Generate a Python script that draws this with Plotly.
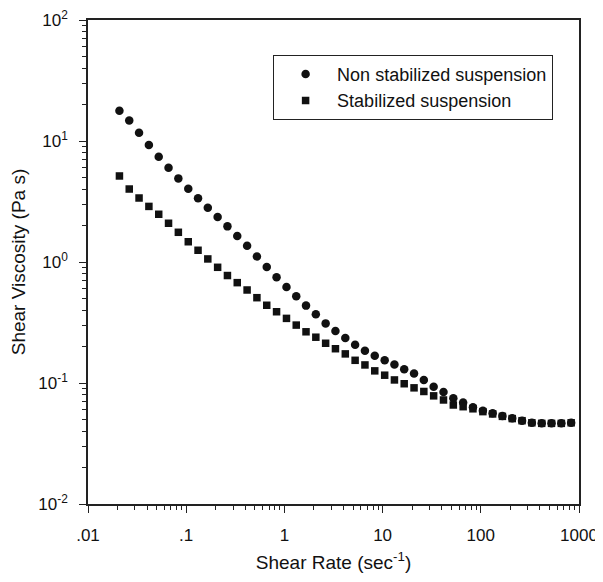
import plotly.graph_objects as go

shear_rate = [0.0209, 0.0263, 0.0331, 0.0417, 0.0525, 0.0661, 0.0832, 0.105, 0.132, 0.166,
              0.209, 0.263, 0.331, 0.417, 0.525, 0.661, 0.832, 1.05, 1.32, 1.66,
              2.09, 2.63, 3.31, 4.17, 5.25, 6.61, 8.32, 10.5, 13.2, 16.6,
              20.9, 26.3, 33.1, 41.7, 52.5, 66.1, 83.2, 105, 132, 166,
              209, 263, 331, 417, 525, 661, 832]

non_stabilized = [17.8, 14.8, 11.7, 9.27, 7.41, 6.01, 4.91, 4.03, 3.36, 2.81,
                  2.35, 1.97, 1.64, 1.36, 1.11, 0.910, 0.748, 0.621, 0.521, 0.436,
                  0.370, 0.311, 0.269, 0.235, 0.207, 0.185, 0.168, 0.154, 0.142, 0.130,
                  0.120, 0.106, 0.0931, 0.0843, 0.0748, 0.0690, 0.0630, 0.0589, 0.0562, 0.0534,
                  0.0511, 0.0488, 0.0469, 0.0464, 0.0464, 0.0464, 0.0469]

stabilized = [5.14, 4.01, 3.38, 2.88, 2.48, 2.09, 1.76, 1.47, 1.25, 1.06,
              0.904, 0.773, 0.675, 0.587, 0.507, 0.439, 0.388, 0.342, 0.301, 0.265,
              0.239, 0.213, 0.192, 0.174, 0.154, 0.141, 0.126, 0.116, 0.106, 0.0986,
              0.0912, 0.0851, 0.0783, 0.0724, 0.0658, 0.0637, 0.0612, 0.0580, 0.0555, 0.0530,
              0.0508, 0.0488, 0.0469, 0.0464, 0.0464, 0.0464, 0.0469]

x_tickvals = [0.01, 0.1, 1, 10, 100, 1000]
x_ticktext = [".01", ".1", "1", "10", "100", "1000"]
y_tickvals = [0.01, 0.1, 1, 10, 100]
y_ticktext = ["10<sup>-2</sup>", "10<sup>-1</sup>", "10<sup>0</sup>", "10<sup>1</sup>", "10<sup>2</sup>"]

FONT = "Liberation Sans, Arial, sans-serif"
INK = "#111111"

fig = go.Figure()
fig.add_trace(go.Scatter(x=shear_rate, y=non_stabilized, mode="markers",
                         name="Non stabilized suspension",
                         marker=dict(symbol="circle", size=8.5, color=INK)))
fig.add_trace(go.Scatter(x=shear_rate, y=stabilized, mode="markers",
                         name="Stabilized suspension",
                         marker=dict(symbol="square", size=7.5, color=INK)))

axis_common = dict(showline=True, linecolor="#222222", linewidth=1.5, mirror=True,
                   showgrid=False, zeroline=False, ticks="outside", ticklen=7,
                   tickwidth=1.2, tickcolor="#222222", automargin=False,
                   ticklabeloverflow="allow",
                   tickfont=dict(family=FONT, size=17, color=INK),
                   minor=dict(dtick="D1", ticks="outside", ticklen=4, tickwidth=1,
                              tickcolor="#222222", showgrid=False))

fig.update_xaxes(type="log", range=[-2, 3], tickmode="array",
                 tickvals=x_tickvals, ticktext=x_ticktext,
                 ticklabelstandoff=8,
                 title=dict(text="Shear Rate (sec<sup>-1</sup>)",
                            font=dict(family=FONT, size=19, color=INK), standoff=12),
                 **axis_common)
fig.update_yaxes(type="log", range=[-2, 2], tickmode="array",
                 tickvals=y_tickvals, ticktext=y_ticktext,
                 ticklabelstandoff=8,
                 title=dict(text="Shear Viscosity (Pa s)",
                            font=dict(family=FONT, size=19, color=INK), standoff=14),
                 **axis_common)

# the page body adds an 8 px offset at top/left, so the figure is 8 px smaller
fig.update_layout(
    width=595, height=574,
    margin=dict(l=80, r=24, t=12, b=78),
    paper_bgcolor="white", plot_bgcolor="white",
    showlegend=True,
    legend=dict(x=0.377, y=0.928, xanchor="left", yanchor="top",
                bordercolor="#222222", borderwidth=1, bgcolor="white",
                font=dict(family=FONT, size=18, color=INK),
                itemwidth=53, tracegroupgap=0),
)

fig.write_html("out.html")
